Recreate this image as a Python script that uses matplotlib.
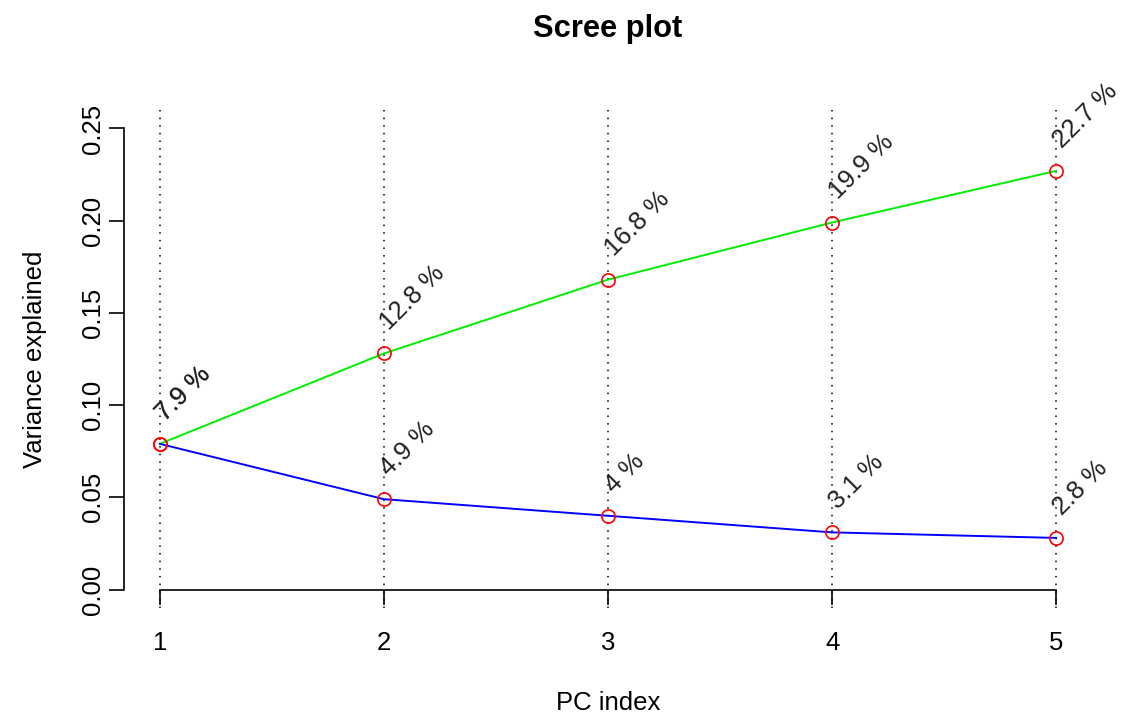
import matplotlib

matplotlib.use("Agg")
import matplotlib.pyplot as plt

# Scree plot data: per-PC and cumulative variance explained.
pcs = [1, 2, 3, 4, 5]
var_each = [0.079, 0.049, 0.040, 0.031, 0.028]
var_cum = [0.079, 0.128, 0.168, 0.199, 0.227]
lab_each = ["7.9 %", "4.9 %", "4 %", "3.1 %", "2.8 %"]
lab_cum = ["7.9 %", "12.8 %", "16.8 %", "19.9 %", "22.7 %"]
yticks = [0.00, 0.05, 0.10, 0.15, 0.20, 0.25]

W, H = 1123, 715
FS = 18.5
plt.rcParams["font.family"] = ["Liberation Sans", "DejaVu Sans"]

fig = plt.figure(figsize=(W / 100, H / 100), dpi=100)
# plot region in pixels: x 124..1092, y 110..608 (R default 4% padding)
ax = fig.add_axes([124 / W, (H - 608) / H, (1092 - 124) / W, (608 - 110) / H])
ax.set_xlim(0.84, 5.16)
ax.set_ylim(-0.01, 0.26)

for x in pcs:
    ax.axvline(x, color="black", lw=1.1, ls=(0, (1, 4)), zorder=1)

ax.plot(pcs, var_cum, color="#00ee00", lw=1.4, zorder=2)
ax.plot(pcs, var_each, color="#0000ff", lw=1.4, zorder=2)
ax.plot(pcs, var_cum, ls="none", marker="o", ms=9.5, mfc="none", mec="#ff0000", mew=1.2, zorder=3)
ax.plot(pcs, var_each, ls="none", marker="o", ms=9.5, mfc="none", mec="#ff0000", mew=1.2, zorder=3)

for xs, ys, labs in ((pcs, var_cum, lab_cum), (pcs, var_each, lab_each)):
    for x, y, t in zip(xs, ys, labs):
        ax.annotate(t, (x, y), xytext=(4, 16), textcoords="offset points",
                    rotation=45, rotation_mode="anchor", ha="left", va="baseline",
                    fontsize=FS, color="#222222", zorder=4)

# R-style axes: y axis at region edge spanning ticks, x axis at y=0
for s in ("top", "right"):
    ax.spines[s].set_visible(False)
ax.spines["left"].set_bounds(0, 0.25)
ax.spines["bottom"].set_position(("data", 0))
ax.spines["bottom"].set_bounds(1, 5)
for s in ("left", "bottom"):
    ax.spines[s].set_linewidth(1.2)

ax.set_xticks(pcs)
ax.set_xticklabels([str(p) for p in pcs])
ax.set_yticks(yticks)
ax.set_yticklabels([f"{v:.2f}" for v in yticks], rotation=90, va="center")
ax.tick_params(axis="both", direction="out", length=11, width=1.2, labelsize=FS, colors="black")
ax.tick_params(axis="x", pad=19)
ax.tick_params(axis="y", pad=3)

fig.text(608 / W, 1 - 37 / H, "Scree plot", ha="center", va="baseline",
         fontsize=FS * 1.2, fontweight="bold")
fig.text(608 / W, 1 - 710 / H, "PC index", ha="center", va="baseline", fontsize=FS)
fig.text(35 / W, 1 - 359 / H, "Variance explained", ha="center", va="center",
         rotation=90, fontsize=FS)

fig.savefig("out.png", dpi=100, facecolor="white")
